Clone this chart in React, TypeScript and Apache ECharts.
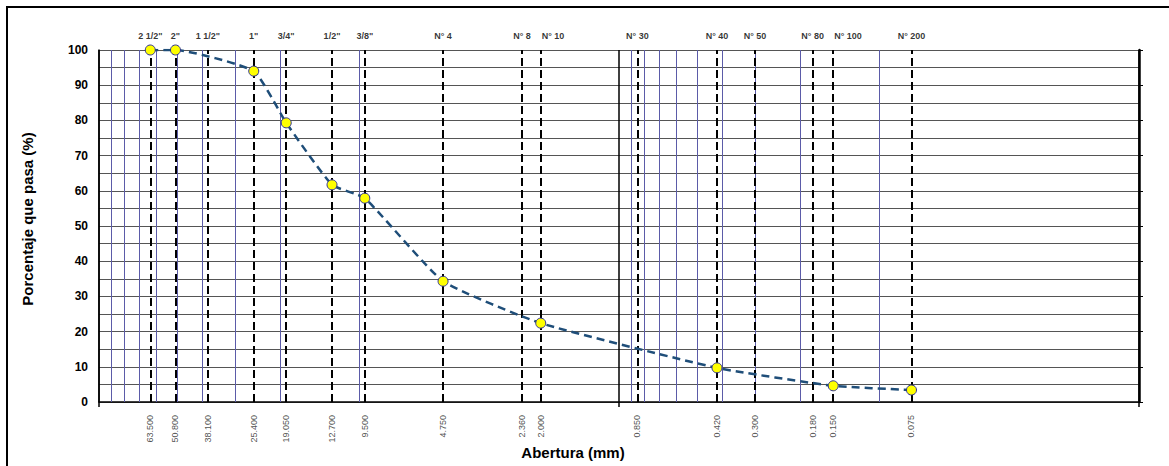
import React, { useEffect, useRef } from 'react';
import * as echarts from 'echarts';

const FONT = '"Liberation Sans", Arial, Helvetica, sans-serif';

// Sieves (name and opening in mm)
const sieveNames = ['2 1/2"', '2"', '1 1/2"', '1"', '3/4"', '1/2"', '3/8"', 'N° 4', 'N° 8', 'N° 10', 'N° 30', 'N° 40', 'N° 50', 'N° 80', 'N° 100', 'N° 200'];
const sieveOpeningsMm = [63.5, 50.8, 38.1, 25.4, 19.05, 12.7, 9.5, 4.75, 2.36, 2.0, 0.85, 0.42, 0.3, 0.18, 0.15, 0.075];
// Sieve names whose top label sits to the right of the line (to avoid overlap)
const shiftedTopLabels = ['N° 10', 'N° 100'];

// Grading curve of the sample
const sampleOpeningsMm = [63.5, 50.8, 25.4, 19.05, 12.7, 9.5, 4.75, 2.0, 0.42, 0.15, 0.075];
const percentPassing = [100, 100, 94.0, 79.3, 61.7, 57.9, 34.3, 22.4, 9.7, 4.6, 3.4];

// Minor logarithmic grid lines (mm)
const minorGridMm = [90, 80, 70, 60, 50, 40, 30, 20, 10, 0.9, 0.8, 0.7, 0.6, 0.5, 0.4, 0.3, 0.2, 0.1];

export default function App() {
  const ref = useRef<HTMLDivElement>(null);
  useEffect(() => {
    if (!ref.current) return;
    const chart = echarts.init(ref.current, undefined, { renderer: 'svg' });
    const option: any = {
      animation: false,
      backgroundColor: '#fff',
      grid: { left: 99, right: 30, top: 50, bottom: 64, containLabel: false },
      xAxis: {
        type: 'log',
        logBase: 100,
        min: 0.01,
        max: 100,
        inverse: true,
        splitNumber: 2,
        axisLine: { show: true, lineStyle: { color: '#000', width: 1.5 } },
        axisTick: { show: true, length: 5, lineStyle: { color: '#000', width: 1.5 } },
        axisLabel: { show: false },
        splitLine: { show: true, lineStyle: { color: '#000', width: 1.5 } },
        minorTick: { show: false },
        minorSplitLine: { show: false },
      },
      yAxis: [
        {
          type: 'value',
          min: 0,
          max: 100,
          interval: 5,
          position: 'left',
          axisLine: { show: true, lineStyle: { color: '#000', width: 1.5 } },
          axisTick: { show: false },
          axisLabel: {
            formatter: (v: number) => (v % 10 === 0 ? String(v) : ''),
            fontWeight: 'bold',
            fontSize: 12,
            color: '#000',
            fontFamily: FONT,
            margin: 11,
          },
          splitLine: { show: true, lineStyle: { color: '#555', width: 1 } },
        },
        {
          type: 'value',
          min: 0,
          max: 100,
          interval: 10,
          position: 'right',
          axisLine: { show: true, lineStyle: { color: '#000', width: 2.5 } },
          axisTick: { show: true, inside: false, length: 4, lineStyle: { color: '#000', width: 1 } },
          axisLabel: { show: false },
          splitLine: { show: false },
        },
      ],
      series: [
        {
          type: 'scatter',
          name: 'sieveTop',
          z: 3,
          clip: false,
          silent: true,
          symbolSize: 0,
          data: sieveOpeningsMm.map((x, i) => {
            const item: any = { value: [x, 100], name: sieveNames[i] };
            if (shiftedTopLabels.indexOf(sieveNames[i]) >= 0) {
              item.label = { align: 'left', offset: [1, 0] };
            }
            return item;
          }),
          label: {
            show: true,
            position: 'top',
            distance: 10,
            formatter: '{b}',
            fontWeight: 'bold',
            fontSize: 9,
            color: '#000',
            fontFamily: FONT,
          },
          markLine: {
            silent: true,
            symbol: 'none',
            animation: false,
            precision: 4,
            label: { show: false },
            lineStyle: { color: '#5b5ba8', width: 1, type: 'solid' },
            data: minorGridMm.map((v) => ({ xAxis: v })),
          },
        },
        {
          type: 'scatter',
          name: 'sieveBottom',
          z: 4,
          clip: false,
          silent: true,
          symbolSize: 0,
          data: sieveOpeningsMm.map((x, i) => ({ value: [x, 0], name: sieveNames[i] })),
          label: {
            show: true,
            position: 'bottom',
            distance: 13,
            rotate: 90,
            align: 'right',
            verticalAlign: 'middle',
            formatter: (p: any) => p.value[0].toFixed(3),
            fontSize: 9,
            color: '#222',
            fontFamily: FONT,
          },
          markLine: {
            silent: true,
            symbol: 'none',
            animation: false,
            precision: 4,
            label: { show: false },
            lineStyle: { color: '#000', width: 2, type: [8, 4] },
            data: sieveOpeningsMm.map((v) => ({ xAxis: v })),
          },
        },
        {
          type: 'line',
          name: 'Curva granulométrica',
          z: 10,
          data: sampleOpeningsMm.map((x, i) => [x, percentPassing[i]]),
          smooth: 0.15,
          symbol: 'circle',
          symbolSize: 10,
          showSymbol: true,
          itemStyle: { color: '#ffff00', borderColor: '#2e3192', borderWidth: 1 },
          lineStyle: { color: '#1f4e79', width: 2.5, type: [8, 5] },
        },
      ],
      graphic: [
        {
          type: 'rect',
          silent: true,
          z: -10,
          shape: { x: 7, y: 7, width: 1180, height: 480 },
          style: { fill: 'none', stroke: '#000', lineWidth: 2 },
        },
        {
          type: 'text',
          x: 573,
          y: 452,
          style: {
            text: 'Abertura (mm)',
            font: `bold 15px ${FONT}`,
            fill: '#000',
            textAlign: 'center',
            textVerticalAlign: 'middle',
            align: 'center',
            verticalAlign: 'middle',
          },
        },
        {
          type: 'text',
          x: 27,
          y: 219,
          rotation: Math.PI / 2,
          style: {
            text: 'Porcentaje que pasa (%)',
            font: `bold 15px ${FONT}`,
            fill: '#000',
            textAlign: 'center',
            textVerticalAlign: 'middle',
            align: 'center',
            verticalAlign: 'middle',
          },
        },
      ],
    };
    chart.setOption(option);
    return () => chart.dispose();
  }, []);
  return (
    <div
      ref={ref}
      style={{ position: 'fixed', left: 0, top: 0, width: 1169, height: 466, background: '#fff' }}
    />
  );
}
